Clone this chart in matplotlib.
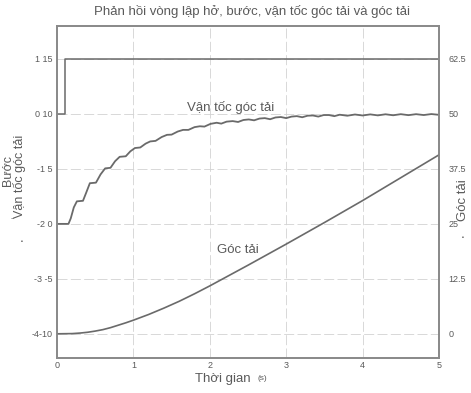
import matplotlib.pyplot as plt

plt.rcParams['font.family'] = ['Liberation Sans', 'DejaVu Sans']

# buoc (step input), left inner scale
step_t = [0, 0.1, 0.1, 5]
step_v = [0, 0, 1, 1]

# van toc goc tai (load angular velocity), left outer scale
vel_t = [0, 0.15, 0.18, 0.22, 0.26, 0.34, 0.38, 0.43, 0.51, 0.57, 0.63, 0.70,
         0.76, 0.82, 0.90, 0.96, 1.02, 1.09, 1.16, 1.22, 1.29, 1.37, 1.44, 1.50,
         1.58, 1.65, 1.72, 1.80, 1.87, 1.93, 2.01, 2.09, 2.15, 2.22, 2.30, 2.37,
         2.44, 2.51, 2.58, 2.65, 2.72, 2.79, 2.86, 2.93, 3.00, 3.07, 3.14, 3.21,
         3.28, 3.35, 3.42, 3.49, 3.56, 3.63, 3.70, 3.80, 3.90, 4.00, 4.10, 4.20,
         4.30, 4.40, 4.50, 4.60, 4.70, 4.80, 4.90, 5.00]
vel_v = [0, 0, 0.5, 1.5, 2.05, 2.1, 2.8, 3.7, 3.75, 4.5, 5.05, 5.1,
         5.7, 6.1, 6.15, 6.6, 6.9, 6.95, 7.3, 7.5, 7.55, 7.9, 8.1, 8.12,
         8.4, 8.55, 8.55, 8.8, 8.88, 8.85, 9.1, 9.2, 9.12, 9.3, 9.35, 9.27,
         9.45, 9.5, 9.42, 9.58, 9.62, 9.52, 9.68, 9.72, 9.62, 9.76, 9.8, 9.7,
         9.84, 9.86, 9.76, 9.9, 9.9, 9.8, 9.93, 9.84, 9.95, 9.86, 9.96, 9.87,
         9.97, 9.88, 9.98, 9.89, 9.98, 9.9, 9.99, 9.92]

# goc tai (load angle), right scale
ang_t = [0, 0.2, 0.3, 0.4, 0.5, 0.6, 0.7, 0.8, 0.9, 1.0, 1.2, 1.4, 1.6, 1.8,
         2.0, 2.5, 3.0, 3.5, 4.0, 4.5, 5.0]
ang_v = [0, 0.05, 0.17, 0.35, 0.62, 0.95, 1.4, 1.95, 2.5, 3.1, 4.4, 5.85, 7.4,
         9.1, 10.9, 15.6, 20.4, 25.3, 30.3, 35.5, 40.7]

vel_ticks = [-10, -5, 0, 5, 10, 15]
left_labels = ['-4-10', '-3 -5', '-2 0', '-1 5', '0 10', '1 15']
ang_ticks = [0, 12.5, 25, 37.5, 50, 62.5]
x_ticks = [0, 1, 2, 3, 4, 5]

line_c = '#6a6a6a'
txt_c = '#5a5a5a'
grid_c = '#d2d2d2'

fig = plt.figure(figsize=(4.71, 3.93), dpi=100)
ax = fig.add_axes([57/471, 1 - 358/393, (439 - 57)/471, (358 - 26)/393])

vel_lo, vel_hi = -12.2, 18.0
ax.set_xlim(0, 5)
ax.set_ylim(vel_lo, vel_hi)

ax_step = ax.twinx()
ax_step.set_ylim((vel_lo + 10) / 5 - 4, (vel_hi + 10) / 5 - 4)
ax_ang = ax.twinx()
ax_ang.set_ylim((vel_lo + 10) * 2.5, (vel_hi + 10) * 2.5)

for x in x_ticks[1:-1]:
    ax.axvline(x, color=grid_c, lw=0.6, ls=(0, (12, 4)), zorder=0)
for y in vel_ticks:
    ax.axhline(y, color=grid_c, lw=0.6, ls=(0, (12, 4)), zorder=0)

ax.plot(vel_t, vel_v, color=line_c, lw=1.3)
ax_step.plot(step_t, step_v, color=line_c, lw=1.1)
ax_ang.plot(ang_t, ang_v, color=line_c, lw=1.2)

ax.set_xticks(x_ticks)
ax.set_xticklabels([str(x) for x in x_ticks])
ax.set_yticks(vel_ticks)
ax.set_yticklabels(left_labels)
ax.tick_params(axis='both', length=0, labelsize=6.5, colors=txt_c, pad=3)
ax.tick_params(axis='x', pad=2)

ax_step.set_yticks([])
ax_ang.set_yticks(ang_ticks)
ax_ang.set_yticklabels(['0', '12.5', '25', '37.5', '50', '62.5'])
ax_ang.tick_params(axis='y', length=0, labelsize=6.5, colors=txt_c, pad=7)

for a in (ax, ax_step, ax_ang):
    for s in a.spines.values():
        s.set_color('#8a8a8a')
        s.set_linewidth(1.1)

ax.text(231/471, 1 - 107/393, 'Vận tốc góc tải', transform=fig.transFigure,
        ha='center', va='center', fontsize=9.5, color=txt_c)
ax.text(238/471, 1 - 250/393, 'Góc tải', transform=fig.transFigure,
        ha='center', va='center', fontsize=9.5, color=txt_c)

fig.text(252/471, 1 - 12/393, 'Phản hồi vòng lập hở, bước, vận tốc góc tải và góc tải',
         ha='center', va='center', fontsize=9.5, color=txt_c)
fig.text(223/471, 1 - 379/393, 'Thời gian', ha='center', va='center',
         fontsize=9.5, color=txt_c)
fig.text(262/471, 1 - 379/393, '(s)', ha='center', va='center',
         fontsize=6, color=txt_c)

fig.text(8/471, 1 - 170/393, 'Bước', rotation=90, ha='center', va='center',
         fontsize=9, color=txt_c)
fig.text(20/471, 1 - 176/393, 'Vận tốc góc tải', rotation=90, ha='center',
         va='center', fontsize=9, color=txt_c)
fig.text(12/471, 1 - 219/393, '-', ha='center', va='center', fontsize=6, color=txt_c)
fig.text(22/471, 1 - 241/393, '▪', ha='center', va='center', fontsize=4, color=txt_c)
fig.text(463/471, 1 - 200/393, 'Góc tải', rotation=90, ha='center', va='center',
         fontsize=9.5, color=txt_c)
fig.text(463/471, 1 - 238/393, '▪', ha='center', va='center', fontsize=4, color=txt_c)

fig.savefig('out.png', dpi=100)
